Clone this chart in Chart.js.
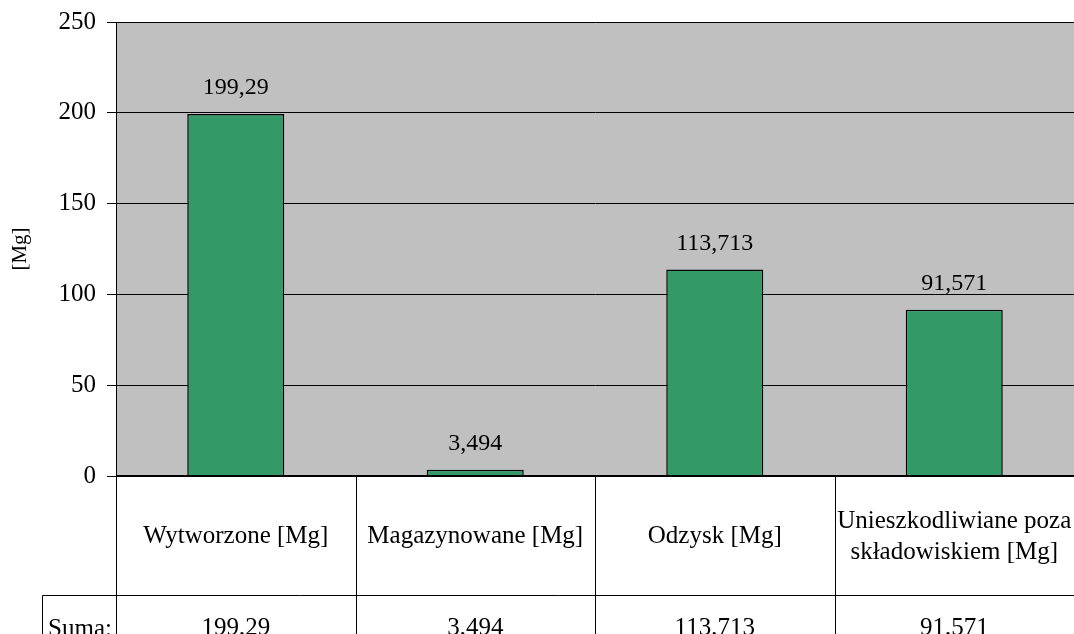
<!DOCTYPE html>
<html>
<head>
<meta charset="utf-8">
<script src="https://cdn.jsdelivr.net/npm/chart.js@4/dist/chart.umd.min.js"></script>
<style>
body{margin:0;background:#fff;}
#wrap{width:1074px;height:634px;position:relative;}
</style>
</head>
<body>
<div id="wrap"><canvas id="chart"></canvas></div>
<script>
//data
const categories = [['Wytworzone [Mg]'], ['Magazynowane [Mg]'], ['Odzysk [Mg]'], ['Unieszkodliwiane poza', 'składowiskiem [Mg]']];
const values = [199.29, 3.494, 113.713, 91.571];
const valueLabels = ['199,29', '3,494', '113,713', '91,571'];
const yTicks = [0, 50, 100, 150, 200, 250];

const serif = '"Liberation Serif", "Times New Roman", serif';

//labels above bars + data table under the plot
const tablePlugin = {
	id: 'tablePlugin',
	afterDraw(chart){
		const c = chart.ctx;
		const area = chart.chartArea;
		const xs = chart.scales.x;
		const meta = chart.getDatasetMeta(0);
		const step = (area.right - area.left) / categories.length;
		const rowSplit = 595;
		const bottom = chart.height;

		c.save();
		c.fillStyle = '#000';
		c.font = '24px ' + serif;
		c.textAlign = 'center';
		c.textBaseline = 'middle';

		//value labels
		for(let i = 0; i < meta.data.length; i++){
			const bar = meta.data[i];
			c.fillText(valueLabels[i], bar.x, bar.y - 26);
		}

		//table lines
		c.strokeStyle = '#000';
		c.lineWidth = 1;
		c.beginPath();
		for(let i = 0; i <= categories.length; i++){
			const x = Math.round(area.left + step * i) + 0.5;
			c.moveTo(x, area.bottom);
			c.lineTo(x, bottom);
		}
		c.moveTo(42.5, rowSplit + 0.5);
		c.lineTo(area.right, rowSplit + 0.5);
		c.moveTo(42.5, rowSplit + 0.5);
		c.lineTo(42.5, bottom);
		c.stroke();

		//zero line
		c.lineWidth = 2;
		c.beginPath();
		c.moveTo(area.left, area.bottom);
		c.lineTo(area.right, area.bottom);
		c.stroke();

		//category text
		c.font = '25px ' + serif;
		for(let i = 0; i < categories.length; i++){
			const x = xs.getPixelForValue(i);
			const lines = categories[i];
			const mid = (area.bottom + rowSplit) / 2 + 1;
			for(let j = 0; j < lines.length; j++){
				const y = mid + (j - (lines.length - 1) / 2) * 31;
				c.fillText(lines[j], x, y);
			}
			c.fillText(valueLabels[i], x, 628);
		}
		c.fillText('Suma:', (42 + area.left) / 2 + 1, 629);
		c.restore();
	}
};

let ctx1 = document.getElementById('chart');

const barChart = new Chart(ctx1, {
	type: 'bar',
	data:{
		labels: categories.map(function(l){ return l.join(' '); }),
		datasets:[{
			data: values,
			backgroundColor: '#339966',
			borderColor: '#000',
			borderWidth: 1.5,
			borderSkipped: 'bottom',
			categoryPercentage: 1,
			barPercentage: 0.405
		}]
	},
	options:{
		responsive: true,
		maintainAspectRatio: false,
		animation: false,
		devicePixelRatio: 1,
		layout:{
			padding:{top: 22, right: 0, bottom: 158, left: 0}
		},
		plugins:{
			legend:{display: false},
			tooltip:{enabled: false}
		},
		scales:{
			x:{
				display: false,
				grid:{display: false}
			},
			y:{
				min: 0,
				max: 250,
				afterBuildTicks: function(scale){
					scale.ticks = yTicks.map(function(v){ return {value: v}; });
				},
				afterFit: function(scale){
					scale.width = 116;
					scale.paddingTop = 0;
					scale.paddingBottom = 0;
				},
				ticks:{
					color: '#000',
					font:{family: serif, size: 25},
					padding: 11
				},
				grid:{
					color: '#000',
					lineWidth: 1,
					tickLength: 9
				},
				border:{color: '#000', width: 1},
				title:{
					display: true,
					text: '[Mg]',
					color: '#000',
					font:{family: serif, size: 21},
					padding:{top: 8, bottom: 0}
				}
			}
		}
	},
	plugins: [{
		id: 'plotBg',
		beforeDraw(chart){
			const a = chart.chartArea;
			chart.ctx.save();
			chart.ctx.fillStyle = '#C0C0C0';
			chart.ctx.fillRect(a.left, a.top, a.right - a.left, a.bottom - a.top);
			chart.ctx.restore();
		}
	}, tablePlugin]
});
</script>
</body>
</html>
